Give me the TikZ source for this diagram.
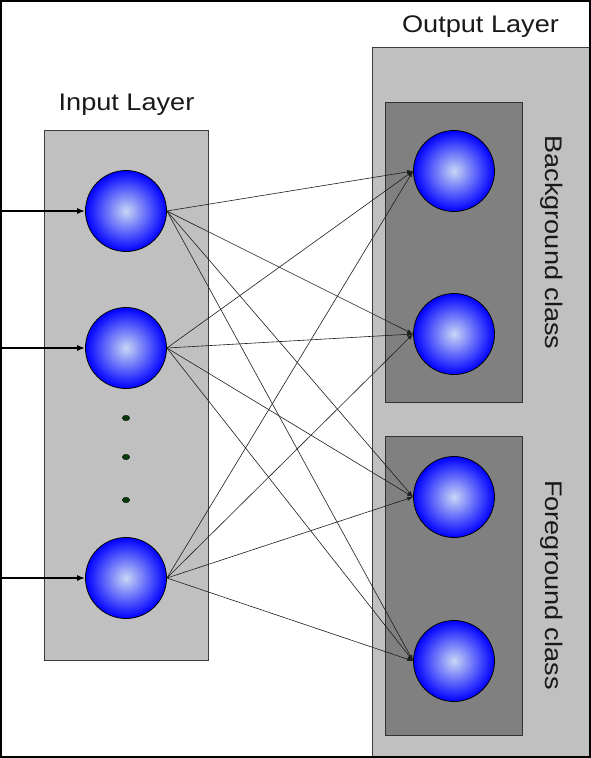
\documentclass[tikz,border=0pt]{standalone}
\usepackage{fontspec}
\setmainfont{Liberation Sans}
\newfontfamily\titlefont{Liberation Sans}[FakeStretch=1.13]
\usetikzlibrary{arrows.meta,shapes.geometric}
\definecolor{lgray}{HTML}{C0C0C0}
\definecolor{dgray}{HTML}{808080}
\definecolor{dotgreen}{HTML}{0A3A0A}
\begin{document}
\begin{tikzpicture}[x=1pt,y=-1pt,
  neuron/.style={circle,draw=black,line width=0.8pt,minimum size=81pt,inner sep=0pt,
    inner color={rgb,255:red,200;green,215;blue,245},outer color={rgb,255:red,0;green,0;blue,255}},
  layerbox/.style={draw={rgb,255:red,60;green,60;blue,60},line width=0.8pt,fill=lgray},
  classbox/.style={draw={rgb,255:red,50;green,50;blue,50},line width=0.8pt,fill=dgray},
  title/.style={font=\titlefont\fontsize{24}{28}\selectfont,text=black!90,inner sep=0pt},
  conn/.style={draw={rgb,255:red,30;green,30;blue,30},line width=0.6pt,-{Latex[length=6pt,width=4pt]}},
  inarrow/.style={draw=black,line width=1.3pt,-{Latex[length=8pt,width=6pt]}},
  dotstyle/.style={ellipse,fill=dotgreen,draw=black,line width=0.3pt,minimum width=7.5pt,minimum height=5.5pt,inner sep=0pt}
]
\useasboundingbox (0,0) rectangle (591,758);
\fill[white] (0,0) rectangle (591,758);
% layer boxes
\node[layerbox,minimum width=164pt,minimum height=530pt,inner sep=0pt] (inbox) at (126,395) {};
\path[layerbox] (372,47) rectangle (589,757);
\node[classbox,minimum width=137pt,minimum height=300pt,inner sep=0pt] (bgbox) at (453.5,252) {};
\node[classbox,minimum width=137pt,minimum height=299pt,inner sep=0pt] (fgbox) at (453.5,585.5) {};
% titles
\node[title] (intitle) at (126.5,104.5) {Input Layer};
\node[title] (outtitle) at (480.5,26.5) {Output Layer};
\node[title,rotate=-90] (bgtitle) at (552,242.5) {Background class};
\node[title,rotate=-90] (fgtitle) at (552,585) {Foreground class};
% neurons
\node[neuron] (i1) at (126,211) {};
\node[neuron] (i2) at (126,348) {};
\node[neuron] (i3) at (126,578) {};
\node[neuron] (o1) at (454,171) {};
\node[neuron] (o2) at (454,334) {};
\node[neuron] (o3) at (454,497) {};
\node[neuron] (o4) at (454,661) {};
% dots
\node[dotstyle] (d1) at (126,418) {};
\node[dotstyle] (d2) at (126,457) {};
\node[dotstyle] (d3) at (126,500) {};
% input arrows
\coordinate (s1) at (0,211);
\coordinate (s2) at (0,348);
\coordinate (s3) at (0,578);
\draw[inarrow] (s1) -- (i1.west);
\draw[inarrow] (s2) -- (i2.west);
\draw[inarrow] (s3) -- (i3.west);
% connections
\foreach \i in {i1,i2,i3}{
  \foreach \o in {o1,o2,o3,o4}{
    \draw[conn] (\i.east) -- (\o.west);
  }
}
% frame
\draw[black,line width=2pt] (1,1) rectangle (590,757);
\end{tikzpicture}
\end{document}
